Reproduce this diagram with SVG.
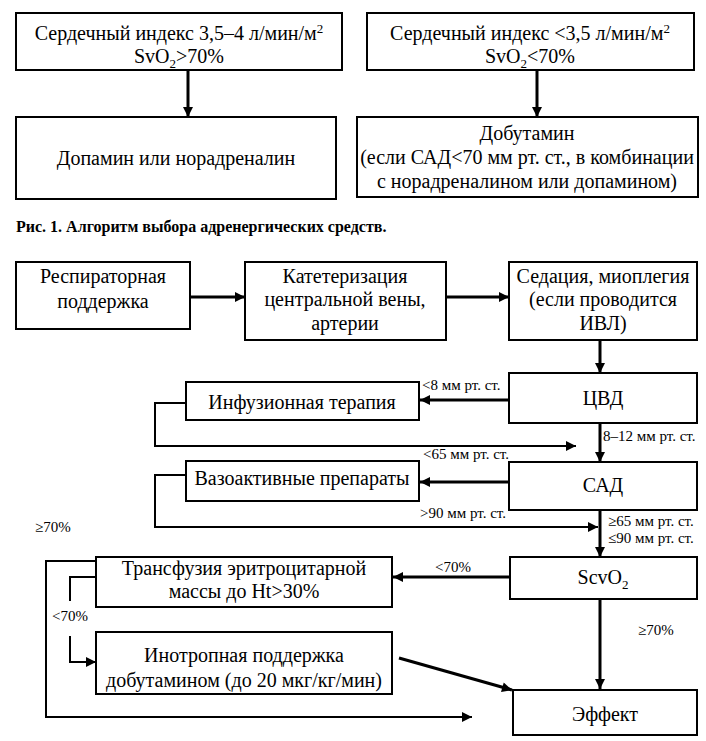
<svg xmlns="http://www.w3.org/2000/svg" width="706" height="741" viewBox="0 0 706 741">
<defs>
<marker id="ah" viewBox="0 0 10 10" refX="10" refY="5" markerWidth="18" markerHeight="10" markerUnits="userSpaceOnUse" orient="auto">
<path d="M0,0 L10,5 L0,10 z" fill="#000"/>
</marker>
</defs>
<style>
.box{fill:#fff;stroke:#000;stroke-width:2}
.t{font-family:"Liberation Serif","Times New Roman",serif;font-size:20px;fill:#000;text-anchor:middle}
.s{font-family:"Liberation Serif","Times New Roman",serif;font-size:15px;fill:#000}
.cap{font-family:"Liberation Serif","Times New Roman",serif;font-size:16px;font-weight:bold;fill:#000}
.c{fill:none;stroke:#000;stroke-width:2}
.ca{fill:none;stroke:#000;stroke-width:3;marker-end:url(#ah)}
.ct{fill:none;stroke:#000;stroke-width:2;marker-end:url(#ah)}
</style>
<rect width="706" height="741" fill="#fff"/>
<g id="connectors">
<line class="ca" x1="188" y1="70" x2="188" y2="117"/>
<line class="ca" x1="537" y1="70" x2="537" y2="117"/>
<line class="ca" x1="190" y1="297" x2="245" y2="297"/>
<line class="ca" x1="446" y1="297" x2="509" y2="297"/>
<line class="ca" x1="600" y1="340" x2="600" y2="373"/>
<line class="ca" x1="509" y1="400" x2="420" y2="400"/>
<polyline class="ct" points="186,403 155,403 155,446 576,446"/>
<line class="ca" x1="600" y1="423" x2="600" y2="462"/>
<line class="ca" x1="509" y1="482" x2="420" y2="482"/>
<polyline class="ct" points="186,475 155,475 155,527 598,527"/>
<line class="ca" x1="600" y1="510" x2="600" y2="557"/>
<line class="ca" x1="510" y1="577" x2="393" y2="577"/>
<line class="ca" x1="600" y1="599" x2="600" y2="689"/>
<line class="ca" x1="399" y1="658" x2="512" y2="690"/>
<polyline class="ct" points="96,561 46,561 46,717 472,717"/>
<polyline class="c" points="96,577 70,577 70,601"/>
<polyline class="ct" points="70,636 70,662 96,662"/>
</g>
<g id="n1"><rect class="box" x="16" y="13" width="326" height="57"/>
<text class="t" x="179" y="40">Сердечный индекс 3,5–4 л/мин/м<tspan dy="-7" font-size="13">2</tspan></text>
<text class="t" x="179" y="63">SvO<tspan dy="5" font-size="13">2</tspan><tspan dy="-5">&gt;70%</tspan></text></g>
<g id="n2"><rect class="box" x="367" y="13" width="327" height="57"/>
<text class="t" x="530" y="40">Сердечный индекс &lt;3,5 л/мин/м<tspan dy="-7" font-size="13">2</tspan></text>
<text class="t" x="530" y="63">SvO<tspan dy="5" font-size="13">2</tspan><tspan dy="-5">&lt;70%</tspan></text></g>
<g id="n3"><rect class="box" x="16" y="117" width="320" height="82"/>
<text class="t" x="176" y="165">Допамин или норадреналин</text></g>
<g id="n4"><rect class="box" x="357" y="117" width="341" height="80"/>
<text class="t" x="527" y="140">Добутамин</text>
<text class="t" x="527" y="164">(если САД&lt;70 мм рт. ст., в комбинации</text>
<text class="t" x="527" y="188">с норадреналином или допамином)</text></g>
<text class="cap" x="16" y="232">Рис. 1. Алгоритм выбора адренергических средств.</text>
<g id="f1"><rect class="box" x="16" y="262" width="174" height="67"/>
<text class="t" x="103" y="283">Респираторная</text>
<text class="t" x="103" y="308">поддержка</text></g>
<g id="f2"><rect class="box" x="245" y="262" width="201" height="78"/>
<text class="t" x="345" y="283">Катетеризация</text>
<text class="t" x="345" y="306">центральной вены,</text>
<text class="t" x="345" y="330">артерии</text></g>
<g id="f3"><rect class="box" x="509" y="262" width="188" height="78"/>
<text class="t" x="603" y="283">Седация, миоплегия</text>
<text class="t" x="603" y="306">(если проводится</text>
<text class="t" x="603" y="330">ИВЛ)</text></g>
<g id="f4"><rect class="box" x="509" y="373" width="188" height="50"/>
<text class="t" x="603" y="405">ЦВД</text></g>
<g id="f5"><rect class="box" x="186" y="382" width="233" height="38"/>
<text class="t" x="302" y="409">Инфузионная терапия</text></g>
<g id="f6"><rect class="box" x="509" y="462" width="188" height="48"/>
<text class="t" x="603" y="492">САД</text></g>
<g id="f7"><rect class="box" x="186" y="461" width="233" height="40"/>
<text class="t" x="302" y="485">Вазоактивные препараты</text></g>
<g id="f8"><rect class="box" x="510" y="557" width="187" height="42"/>
<text class="t" x="603" y="584">ScvO<tspan dy="5" font-size="13">2</tspan></text></g>
<g id="f9"><rect class="box" x="96" y="557" width="296" height="50"/>
<text class="t" x="244" y="575">Трансфузия эритроцитарной</text>
<text class="t" x="244" y="598">массы до Ht&gt;30%</text></g>
<g id="f10"><rect class="box" x="96" y="632" width="296" height="62"/>
<text class="t" x="244" y="662">Инотропная поддержка</text>
<text class="t" x="244" y="687">добутамином (до 20 мкг/кг/мин)</text></g>
<g id="f11"><rect class="box" x="513" y="690" width="184" height="45"/>
<text class="t" x="605" y="721">Эффект</text></g>
<g id="labels">
<text class="s" x="422" y="390">&lt;8 мм рт. ст.</text>
<text class="s" x="603" y="441">8–12 мм рт. ст.</text>
<text class="s" x="423" y="459">&lt;65 мм рт. ст.</text>
<text class="s" x="420" y="518">&gt;90 мм рт. ст.</text>
<text class="s" x="608" y="526">≥65 мм рт. ст.</text>
<text class="s" x="608" y="543">≤90 мм рт. ст.</text>
<text class="s" x="435" y="572">&lt;70%</text>
<text class="s" x="638" y="635">≥70%</text>
<text class="s" x="35" y="532">≥70%</text>
<text class="s" x="52" y="621">&lt;70%</text>
</g>
</svg>
